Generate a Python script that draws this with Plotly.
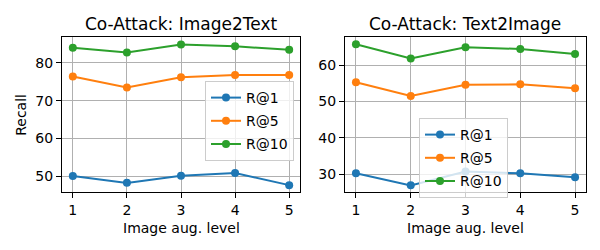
import plotly.graph_objects as go

levels = [1, 2, 3, 4, 5]
series_names = ["R@1", "R@5", "R@10"]
colors = ["#1f77b4", "#ff7f0e", "#2ca02c"]

i2t_r1 = [50.0, 48.2, 50.1, 50.8, 47.6]
i2t_r5 = [76.4, 73.5, 76.2, 76.8, 76.8]
i2t_r10 = [84.0, 82.8, 84.9, 84.4, 83.5]

t2i_r1 = [30.3, 27.0, 30.8, 30.3, 29.2]
t2i_r5 = [55.3, 51.5, 54.6, 54.7, 53.6]
t2i_r10 = [65.7, 61.8, 64.9, 64.4, 63.0]

titles = ["Co-Attack: Image2Text", "Co-Attack: Text2Image"]
xlabel = "Image aug. level"
ylabel = "Recall"

FONT = "DejaVu Sans"
OFF = 8  # default page body margin
W, H = 600 - OFF, 250 - OFF


def xp(wx):
    return (wx - OFF) / W


def yp(wy):
    return 1 - (wy - OFF) / H


fig = go.Figure()

panels = [
    ([i2t_r1, i2t_r5, i2t_r10], "x", "y", "legend", "a"),
    ([t2i_r1, t2i_r5, t2i_r10], "x2", "y2", "legend2", "b"),
]
for vals, xa, ya, lg, tag in panels:
    for name, v, c in zip(series_names, vals, colors):
        fig.add_trace(go.Scatter(
            x=levels, y=v, name=name, mode="lines+markers",
            line=dict(color=c, width=2), marker=dict(color=c, size=8),
            xaxis=xa, yaxis=ya, legend=lg, legendgroup=tag + name,
        ))

axis_common = dict(
    showgrid=True, gridcolor="#b0b0b0", gridwidth=1,
    showline=True, linecolor="black", linewidth=1, mirror=True,
    ticks="outside", ticklen=5, tickcolor="black", tickwidth=1,
    zeroline=False, tickfont=dict(family=FONT, size=14, color="#000000"),
)

legend_common = dict(
    xanchor="left", yanchor="top", tracegroupgap=2,
    bgcolor="rgba(255,255,255,0.8)", bordercolor="#cccccc", borderwidth=1,
    font=dict(family=FONT, size=14, color="black"),
)

fig.update_layout(
    width=W, height=H,
    margin=dict(l=0, r=0, t=0, b=0),
    paper_bgcolor="white", plot_bgcolor="white",
    font=dict(family=FONT, size=14, color="black"),
    xaxis=dict(domain=[xp(62), xp(300)], range=[0.8, 5.2], tickvals=levels, anchor="y", **axis_common),
    yaxis=dict(domain=[yp(192.3), yp(37.3)], range=[45.7, 86.8], tickvals=[50, 60, 70, 80], anchor="x", **axis_common),
    xaxis2=dict(domain=[xp(345), xp(586)], range=[0.8, 5.2], tickvals=levels, anchor="y2", **axis_common),
    yaxis2=dict(domain=[yp(192.3), yp(37.3)], range=[25.1, 67.6], tickvals=[30, 40, 50, 60], anchor="x2", **axis_common),
    legend=dict(x=xp(205), y=yp(81), **legend_common),
    legend2=dict(x=xp(419), y=yp(118), **legend_common),
    showlegend=True,
)

for text, cx in zip(titles, [181, 465]):
    fig.add_annotation(text=text, x=xp(cx), y=yp(24), xref="paper", yref="paper",
                       showarrow=False, font=dict(family=FONT, size=17, color="black"),
                       xanchor="center", yanchor="middle")
for cx in [181, 465]:
    fig.add_annotation(text=xlabel, x=xp(cx), y=yp(227.5), xref="paper", yref="paper",
                       showarrow=False, font=dict(family=FONT, size=14, color="black"),
                       xanchor="center", yanchor="middle")
fig.add_annotation(text=ylabel, x=xp(21), y=yp(114.8), xref="paper", yref="paper",
                   showarrow=False, textangle=-90, font=dict(family=FONT, size=14, color="black"),
                   xanchor="center", yanchor="middle")

fig.write_html("out.html")
